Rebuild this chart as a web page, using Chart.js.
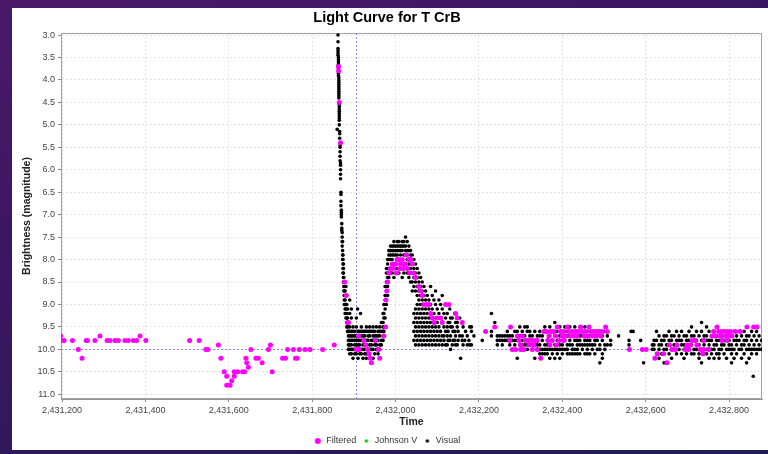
<!DOCTYPE html>
<html><head><meta charset="utf-8">
<script src="https://cdn.jsdelivr.net/npm/chart.js@4.4.0/dist/chart.umd.min.js"></script>
<style>
html,body{margin:0;padding:0;width:768px;height:454px;overflow:hidden;background:linear-gradient(160deg,#4a1868 0%,#3a1660 40%,#2a1a58 75%,#1e1d52 100%);}
#wrap{position:absolute;left:12px;top:8px;width:756px;height:442px;background:#fff;}
canvas{display:block;}
</style></head><body>
<div id="wrap"><canvas id="c" width="756" height="442"></canvas></div>
<script>
const chartTitle = 'Light Curve for T CrB';
const xTitle = 'Time';
const yTitle = 'Brightness (magnitude)';
const seriesNames = ['Filtered', 'Johnson V', 'Visual'];
const timeMin = 2431197.5, timeMax = 2432879, timeStep = 200;
const magMin = 2.955, magMax = 11.105, magStep = 0.5;
const crosshairTime = 2431904, crosshairMag = 10.0;

// Filtered observations: [time, magnitude]
const filteredObs = [
[2431197,9.7],[2431198,9.8],[2431205,9.8],[2431225,9.8],[2431239,10.0],[2431248,10.2],[2431258,9.8],[2431261,9.8],[2431279,9.8],[2431291,9.7],
[2431308,9.8],[2431315,9.8],[2431327,9.8],[2431335,9.8],[2431351,9.8],[2431359,9.8],[2431371,9.8],[2431379,9.8],[2431387,9.7],[2431401,9.8],
[2431506,9.8],[2431529,9.8],[2431545,10.0],[2431550,10.0],[2431575,9.9],[2431581,10.2],[2431589,10.5],[2431595,10.6],[2431595,10.8],[2431603,10.8],
[2431607,10.7],[2431613,10.5],[2431613,10.6],[2431621,10.5],[2431633,10.5],[2431638,10.5],[2431641,10.2],[2431643,10.3],[2431647,10.4],[2431653,10.0],
[2431665,10.2],[2431671,10.2],[2431680,10.3],[2431695,10.0],[2431700,9.9],[2431704,10.5],[2431729,10.2],[2431736,10.2],[2431741,10.0],[2431755,10.0],
[2431760,10.2],[2431764,10.2],[2431769,10.0],[2431783,10.0],[2431795,10.0],[2431825,10.0],[2431853,9.9],
[2431863,3.7],[2431863.5,3.8],[2431865,4.5],[2431868,5.4],[2431878,8.5],[2431882,8.8],[2431885,9.4],[2431887,9.4],
[2431906,10.0],[2431911,9.7],[2431912,10.0],[2431924,9.8],[2431928,9.9],[2431933,10.0],[2431936,10.1],[2431939,10.2],[2431942,10.3],[2431952,9.8],
[2431959,10.0],[2431962,10.2],[2431972,9.7],[2431976,9.5],
[2431977,8.9],[2431979,8.7],[2431981,8.5],[2431984,8.3],[2431988,8.2],[2431992,8.1],[2431996,8.2],[2432000,8.1],[2432002,8.3],[2432004,8.0],
[2432008,8.0],[2432010,8.2],[2432012,8.1],[2432016,8.0],[2432018,8.2],[2432020,8.1],[2432024,8.1],[2432026,7.9],[2432028,8.2],[2432032,8.0],
[2432034,8.3],[2432036,8.0],[2432040,8.1],[2432044,8.3],[2432048,8.4],[2432056,8.6],[2432060,8.7],[2432064,8.8],[2432068,9.0],[2432076,9.0],
[2432080,9.0],[2432084,9.2],[2432088,9.3],[2432092,9.4],[2432100,9.3],[2432108,9.3],[2432112,9.4],[2432120,9.0],[2432128,9.0],[2432144,9.2],
[2432148,9.3],[2432160,9.4],
[2432216,9.6],[2432238,9.5],[2432276,9.5],[2432274,9.8],[2432280,10.0],[2432288,10.0],[2432292,9.7],[2432296,9.8],[2432300,10.0],[2432300,9.9],
[2432304,9.7],[2432308,10.0],[2432312,9.8],[2432318,9.8],[2432320,9.9],[2432326,9.8],[2432328,10.0],[2432332,9.9],[2432334,9.8],[2432340,10.0],
[2432340,9.8],[2432348,10.2],[2432356,9.6],[2432362,9.6],[2432366,9.8],[2432368,9.7],[2432370,9.9],[2432372,9.6],[2432376,9.8],[2432380,9.6],
[2432384,9.7],[2432386,9.9],[2432388,9.5],[2432392,9.8],[2432396,9.6],[2432400,9.7],[2432404,9.6],[2432404,9.8],[2432408,9.7],[2432412,9.5],
[2432416,9.6],[2432420,9.7],[2432424,9.6],[2432428,9.7],[2432432,9.6],[2432436,9.7],[2432440,9.6],[2432444,9.5],[2432448,9.6],[2432452,9.7],
[2432456,9.6],[2432460,9.7],[2432464,9.5],[2432468,9.6],[2432472,9.7],[2432476,9.6],[2432480,9.7],[2432484,9.6],[2432488,9.6],[2432492,9.7],
[2432496,9.6],[2432504,9.5],[2432508,9.6],
[2432561,10.0],[2432592,10.0],[2432601,10.0],[2432622,10.2],[2432628,10.1],[2432643,10.1],[2432651,10.3],[2432657,9.9],[2432663,10.0],[2432671,10.0],
[2432675,9.9],[2432695,10.0],[2432699,9.9],[2432703,10.0],[2432707,9.9],[2432711,9.8],[2432719,9.8],[2432723,9.9],[2432731,10.0],[2432737,10.1],
[2432739,10.0],[2432739,9.8],[2432751,10.0],[2432759,9.7],[2432763,9.6],[2432767,9.7],[2432771,9.5],[2432775,9.6],[2432779,9.7],[2432781,9.6],
[2432783,9.8],[2432787,9.6],[2432791,9.7],[2432795,9.6],[2432795,9.8],[2432799,9.7],[2432803,9.6],[2432807,9.7],[2432815,9.6],[2432827,9.6],
[2432843,9.5],[2432859,9.5],[2432867,9.5]
];

// Johnson V observations (none visible in this range)
const johnsonVObs = [];

// Visual observations: [time, [magnitudes reported around that time]]
const visualObs = [
[2431860,[5.1]],
[2431862,[3.0,3.15,3.3,3.35,3.4,3.45]],
[2431863,[3.5,3.55,3.6,3.65,3.75,3.85,3.9]],
[2431864,[3.95,4.0,4.05,4.1,4.15,4.2,4.25,4.3,4.35,4.4]],
[2431865,[4.55,4.6,4.65,4.7,4.75,4.8,4.85,4.9,5.0]],
[2431866,[5.15,5.2,5.3]],
[2431867,[5.45,5.5,5.6,5.7,5.8]],
[2431868,[5.85,5.9,6.0,6.1,6.2]],
[2431869,[6.5,6.55,6.7,6.8]],
[2431870,[6.9,6.95,7.0,7.05]],
[2431871,[7.2,7.3,7.35]],
[2431872,[7.4,7.5,7.6,7.7]],
[2431873,[7.6,7.8,7.9,8.0]],
[2431874,[7.9,8.0,8.1,8.2,8.3]],
[2431875,[8.1,8.2,8.3,8.4,8.5]],
[2431876,[8.4,8.5,8.6,8.7]],
[2431877,[8.6,8.7,8.8,8.9,9.0]],
[2431879,[8.5,8.7,8.9,9.0,9.1,9.2]],
[2431881,[8.6,8.8,9.0,9.1,9.3]],
[2431883,[9.0,9.2,9.3,9.4,9.5]],
[2431885,[9.1,9.3,9.5,9.6]],
[2431887,[9.4,9.6,9.7,9.8,9.9,10.0]],
[2431890,[8.9,9.2,9.5,9.6,9.7,9.8,9.9,10.0,10.1]],
[2431894,[9.1,9.3,9.6,9.7,9.8,9.9,10.0,10.1]],
[2431898,[9.5,9.6,9.7,9.8,10.0,10.2]],
[2431902,[9.6,9.7,9.8,9.9,10.0,10.1]],
[2431906,[9.3,9.5,9.7,9.8,9.9,10.1]],
[2431909,[9.1]],
[2431910,[9.6,9.7,9.8,9.9,10.0,10.2]],
[2431914,[9.6,9.8,9.9,10.0,10.1]],
[2431916,[9.2]],
[2431918,[9.5,9.6,9.7,9.8,10.0,10.1]],
[2431922,[9.6,9.7,9.9,10.0,10.2]],
[2431926,[9.6,9.7,9.8,10.0,10.1]],
[2431930,[9.5,9.6,9.8,9.9,10.1,10.2]],
[2431934,[9.6,9.7,9.8,10.0]],
[2431938,[9.5,9.6,9.7,9.9,10.0,10.1]],
[2431942,[9.6,9.8,9.9,10.0]],
[2431946,[9.5,9.6,9.7,9.8,10.0,10.2]],
[2431950,[9.6,9.7,9.8,9.9,10.1]],
[2431954,[9.5,9.7,9.8,9.9,10.0]],
[2431958,[9.6,9.7,9.8,10.0,10.1]],
[2431962,[9.5,9.6,9.7,9.9,10.0]],
[2431966,[9.4,9.6,9.8,9.9]],
[2431970,[9.2,9.4,9.5,9.6,9.7,9.8]],
[2431972,[9.0,9.2,9.3,9.5,9.6]],
[2431975,[8.6,8.8,8.9,9.1,9.3]],
[2431978,[8.2,8.3,8.5,8.6,8.7,9.0]],
[2431981,[8.0,8.1,8.2,8.4,8.6,8.8]],
[2431984,[7.8,7.9,8.0,8.2,8.4]],
[2431988,[7.7,7.8,7.9,8.0,8.2,8.3]],
[2431992,[7.7,7.8,7.9,8.0,8.3]],
[2431996,[7.6,7.7,7.8,7.9,8.1,8.4]],
[2432000,[7.7,7.8,7.9,8.1,8.3]],
[2432004,[7.6,7.7,7.8,7.9,8.2]],
[2432008,[7.6,7.7,7.8,8.0,8.3]],
[2432012,[7.7,7.8,7.9,8.1,8.2]],
[2432016,[7.6,7.7,7.8,8.0,8.4]],
[2432020,[7.6,7.7,7.9,8.1,8.3]],
[2432024,[7.5,7.7,7.8,7.9,8.2]],
[2432028,[7.6,7.8,7.9,8.0,8.3]],
[2432032,[7.7,7.8,8.0,8.1,8.4]],
[2432036,[7.8,7.9,8.0,8.2,8.3,8.5]],
[2432040,[7.9,8.0,8.1,8.3,8.5,8.7]],
[2432044,[8.0,8.2,8.4,8.6,9.2,9.4,9.6,9.8]],
[2432048,[8.1,8.3,8.5,8.7,9.1,9.3,9.5,9.7,9.9]],
[2432052,[8.2,8.4,8.6,8.8,9.0,9.2,9.4,9.6,9.8]],
[2432056,[8.3,8.5,8.7,8.9,9.1,9.3,9.5,9.7,9.9]],
[2432060,[8.4,8.6,8.8,9.0,9.2,9.4,9.6,9.8]],
[2432064,[8.5,8.7,8.9,9.1,9.3,9.5,9.7,9.9]],
[2432068,[8.6,8.8,9.0,9.2,9.4,9.6,9.8]],
[2432072,[8.7,8.9,9.1,9.3,9.5,9.7,9.9]],
[2432076,[8.8,9.0,9.2,9.4,9.6,9.8]],
[2432080,[8.9,9.1,9.3,9.5,9.7,9.9]],
[2432084,[8.6,9.0,9.2,9.4,9.6,9.8]],
[2432088,[8.8,9.1,9.3,9.5,9.7,9.9]],
[2432092,[8.9,9.2,9.4,9.6,9.8]],
[2432096,[8.7,9.0,9.3,9.5,9.7,9.9]],
[2432100,[9.1,9.4,9.6,9.8]],
[2432104,[8.9,9.2,9.5,9.7,9.9]],
[2432108,[9.0,9.3,9.6,9.8]],
[2432112,[8.8,9.1,9.4,9.7,9.9]],
[2432116,[9.2,9.5,9.7,9.8]],
[2432120,[9.0,9.3,9.6,9.9]],
[2432124,[9.2,9.5,9.7,9.9]],
[2432126,[9.4,9.6,9.8]],
[2432130,[9.1,9.4,9.8]],
[2432132,[9.3,9.5,9.7,10.0]],
[2432136,[9.3,9.5,9.9]],
[2432138,[9.6,9.8]],
[2432142,[9.2,9.6,9.8]],
[2432144,[9.4,9.7,9.9]],
[2432148,[9.4,9.5,9.9]],
[2432150,[9.6,9.8]],
[2432154,[9.3,9.7]],
[2432156,[10.2]],
[2432160,[9.7,9.8]],
[2432162,[9.5,9.9]],
[2432166,[9.8]],
[2432168,[9.6]],
[2432172,[9.7,9.9]],
[2432176,[9.8]],
[2432178,[9.5,9.9]],
[2432182,[9.5,9.6,9.9]],
[2432188,[9.7]],
[2432208,[9.8]],
[2432230,[9.2,9.6,9.7]],
[2432238,[9.4]],
[2432244,[9.7,9.8,9.9]],
[2432250,[9.7,9.8]],
[2432256,[9.7,9.8,9.9]],
[2432262,[9.7,9.8]],
[2432268,[9.6,9.7,9.8]],
[2432274,[9.7,9.8,9.9]],
[2432280,[9.7,9.8]],
[2432286,[9.6,9.8,9.9]],
[2432292,[9.6,9.7,9.8,10.2]],
[2432298,[9.5,9.7,9.9]],
[2432304,[9.6,9.8,9.9,10.0]],
[2432310,[9.5,9.7,9.8,9.9]],
[2432316,[9.5,9.6,9.8,9.9,10.0]],
[2432322,[9.6,9.7,9.8,9.9]],
[2432328,[9.7,9.8,9.9,10.0]],
[2432334,[9.6,9.8,9.9,10.2]],
[2432340,[9.7,9.8,9.9,10.0]],
[2432346,[9.6,9.7,9.9,10.0,10.1]],
[2432352,[9.7,9.8,10.0,10.1]],
[2432358,[9.5,9.6,9.9,10.0,10.1]],
[2432364,[9.6,9.8,9.9,10.0,10.1]],
[2432370,[9.5,9.7,9.9,10.0,10.2]],
[2432376,[9.6,9.8,10.0,10.1]],
[2432382,[9.4,9.7,9.9,10.0,10.2]],
[2432388,[9.6,9.8,10.0,10.1]],
[2432394,[9.5,9.7,9.9,10.0,10.2]],
[2432400,[9.6,9.8,9.9,10.0,10.1]],
[2432406,[9.5,9.7,9.8,10.0]],
[2432412,[9.6,9.7,9.9,10.0,10.1]],
[2432418,[9.5,9.7,9.8,9.9,10.1]],
[2432424,[9.6,9.7,9.9,10.0,10.1]],
[2432430,[9.5,9.7,9.8,10.0,10.1]],
[2432436,[9.6,9.8,9.9,10.0,10.1]],
[2432442,[9.5,9.7,9.8,9.9,10.1]],
[2432448,[9.6,9.7,9.9,10.0]],
[2432454,[9.5,9.7,9.8,9.9,10.1]],
[2432460,[9.6,9.8,9.9,10.0,10.1]],
[2432466,[9.7,9.8,9.9,10.1]],
[2432472,[9.6,9.7,9.9,10.0]],
[2432478,[9.6,9.8,9.9,10.1]],
[2432484,[9.7,9.8,10.0]],
[2432490,[9.6,9.9,10.0,10.3]],
[2432496,[9.7,9.8,10.1,10.2]],
[2432502,[9.6,9.9,10.0]],
[2432508,[9.7,9.9]],
[2432516,[9.8,9.9]],
[2432535,[9.7]],
[2432560,[9.8,9.9]],
[2432565,[9.6]],
[2432570,[9.6]],
[2432588,[9.8]],
[2432595,[10.3]],
[2432616,[9.9,10.0]],
[2432620,[9.8,9.9,10.0]],
[2432626,[9.6,9.8,10.1]],
[2432632,[9.7,9.9,10.0,10.2]],
[2432638,[9.8,9.9,10.1]],
[2432644,[9.7,9.8,10.0,10.3]],
[2432650,[9.7,9.9,10.0]],
[2432656,[9.6,9.8,9.9,10.1]],
[2432662,[9.7,9.8,10.0,10.2]],
[2432668,[9.7,9.9,10.0]],
[2432674,[9.6,9.8,9.9,10.1]],
[2432680,[9.7,9.8,10.0]],
[2432686,[9.6,9.8,9.9,10.1]],
[2432692,[9.7,9.9,10.0,10.2]],
[2432698,[9.7,9.8,10.0,10.1]],
[2432704,[9.6,9.8,9.9,10.0]],
[2432710,[9.5,9.7,9.9,10.1]],
[2432716,[9.7,9.8,10.0,10.1]],
[2432722,[9.6,9.8,9.9,10.0]],
[2432728,[9.7,9.9,10.1,10.2]],
[2432734,[9.4,9.6,9.8,10.0,10.3]],
[2432740,[9.7,9.8,9.9,10.1]],
[2432746,[9.5,9.7,9.8,10.0,10.1]],
[2432752,[9.6,9.8,9.9,10.0,10.2]],
[2432758,[9.7,9.8,10.0,10.1]],
[2432764,[9.6,9.7,9.9,10.0,10.2]],
[2432770,[9.7,9.8,9.9,10.1]],
[2432776,[9.6,9.8,10.0,10.1,10.2]],
[2432782,[9.7,9.8,9.9,10.0]],
[2432788,[9.6,9.8,9.9,10.1]],
[2432794,[9.7,9.8,10.0,10.2]],
[2432800,[9.6,9.8,9.9,10.0]],
[2432806,[9.7,9.9,10.0,10.1,10.3]],
[2432812,[9.6,9.8,10.0,10.2]],
[2432818,[9.7,9.8,9.9,10.1]],
[2432824,[9.6,9.8,10.0]],
[2432830,[9.7,9.9,10.0,10.2]],
[2432836,[9.6,9.8,9.9,10.1]],
[2432842,[9.5,9.7,9.8,10.0,10.3]],
[2432848,[9.7,9.9,10.0,10.2]],
[2432854,[9.6,9.8,10.0,10.1]],
[2432858,[10.6]],
[2432860,[9.7,9.9,10.0]],
[2432866,[9.6,9.8,10.0,10.1]],
[2432872,[9.7,9.9,10.0]],
[2432878,[9.8,10.0]]
];

const FONT = '"Liberation Sans", Arial, sans-serif';
const filteredPts = filteredObs.map(([t, m]) => ({x: t, y: m}));
const johnsonPts = johnsonVObs.map(([t, m]) => ({x: t, y: m}));
const visualPts = [];
visualObs.forEach(([t, mags]) => mags.forEach(m => visualPts.push({x: t, y: m})));

function marker(color, d) {
  const c = document.createElement('canvas');
  c.width = c.height = 8;
  const g = c.getContext('2d');
  g.fillStyle = color;
  g.beginPath(); g.arc(4, 4, d / 2, 0, Math.PI * 2); g.fill();
  return c;
}
const colors = ['#ff00ff', '#00c800', '#000000'];
const legendMarkers = [marker(colors[0], 6), marker(colors[1], 3.5), marker(colors[2], 3.5)];

const framePlugin = {
  id: 'frame',
  beforeDatasetsDraw(chart) {
    const {ctx, chartArea: a, scales: {x, y}} = chart;
    ctx.save();
    ctx.strokeStyle = '#8c8cf0';
    ctx.lineWidth = 1;
    ctx.setLineDash([2, 2]);
    const cx = Math.round(x.getPixelForValue(crosshairTime)) + 0.5;
    const cy = Math.round(y.getPixelForValue(crosshairMag)) + 0.5;
    ctx.beginPath();
    ctx.moveTo(cx, a.top); ctx.lineTo(cx, a.bottom);
    ctx.moveTo(a.left, cy); ctx.lineTo(a.right, cy);
    ctx.stroke();
    ctx.setLineDash([]);
    ctx.strokeStyle = '#a0a0a0';
    ctx.strokeRect(Math.round(a.left) + 0.5, Math.round(a.top) + 0.5, Math.round(a.width) - 1, Math.round(a.height) - 1);
    ctx.restore();
  }
};

new Chart(document.getElementById('c'), {
  type: 'scatter',
  data: {
    datasets: [
      {label: seriesNames[0], data: filteredPts, pointRadius: 2.5, pointBackgroundColor: colors[0], pointBorderWidth: 0, borderColor: colors[0]},
      {label: seriesNames[1], data: johnsonPts, pointRadius: 1.8, pointBackgroundColor: colors[1], pointBorderWidth: 0, borderColor: colors[1]},
      {label: seriesNames[2], data: visualPts, pointRadius: 1.8, pointBackgroundColor: colors[2], pointBorderWidth: 0, borderColor: colors[2]}
    ]
  },
  options: {
    responsive: false,
    animation: false,
    events: [],
    layout: {padding: {left: 0, right: 6, top: 0, bottom: -5.5}},
    plugins: {
      title: {display: true, text: chartTitle, color: '#000', font: {family: FONT, size: 14.5, weight: 'bold'}, padding: {top: 1.5, bottom: 6.1}},
      legend: {
        position: 'bottom',
        labels: {
          usePointStyle: true, pointStyleWidth: 8, padding: 6, color: '#333',
          font: {family: FONT, size: 9},
          generateLabels: chart => chart.data.datasets.map((ds, i) => ({
            text: ds.label, pointStyle: legendMarkers[i], fillStyle: colors[i], strokeStyle: colors[i],
            lineWidth: 0, hidden: false, datasetIndex: i, fontColor: '#333'
          }))
        }
      },
      tooltip: {enabled: false}
    },
    scales: {
      x: {
        type: 'linear', position: 'bottom', min: timeMin, max: timeMax,
        afterFit: s => { s.height = 31.5; },
        ticks: {stepSize: timeStep, includeBounds: false, autoSkip: false, maxRotation: 0, padding: 3, color: '#444', font: {family: FONT, size: 9}},
        grid: {color: '#e4e4e4', tickLength: 3, tickColor: '#888', tickBorderDash: []},
        border: {display: true, color: '#999', dash: [2, 2]},
        title: {display: true, text: xTitle, color: '#222', font: {family: FONT, size: 10.5, weight: 'bold'}, padding: {top: 0, bottom: 2.2}}
      },
      y: {
        type: 'linear', position: 'left', reverse: true, min: magMin, max: magMax,
        afterFit: s => { s.width = 49; },
        ticks: {stepSize: magStep, includeBounds: false, autoSkip: false, padding: 3, color: '#444', font: {family: FONT, size: 9}, callback: v => v.toFixed(1)},
        grid: {color: '#e4e4e4', tickLength: 3, tickColor: '#888', tickBorderDash: []},
        border: {display: true, color: '#999', dash: [2, 2]},
        title: {display: true, text: yTitle, color: '#222', font: {family: FONT, size: 10.5, weight: 'bold'}, padding: {top: 8.7, bottom: 0}}
      }
    }
  },
  plugins: [framePlugin]
});
</script></body></html>
